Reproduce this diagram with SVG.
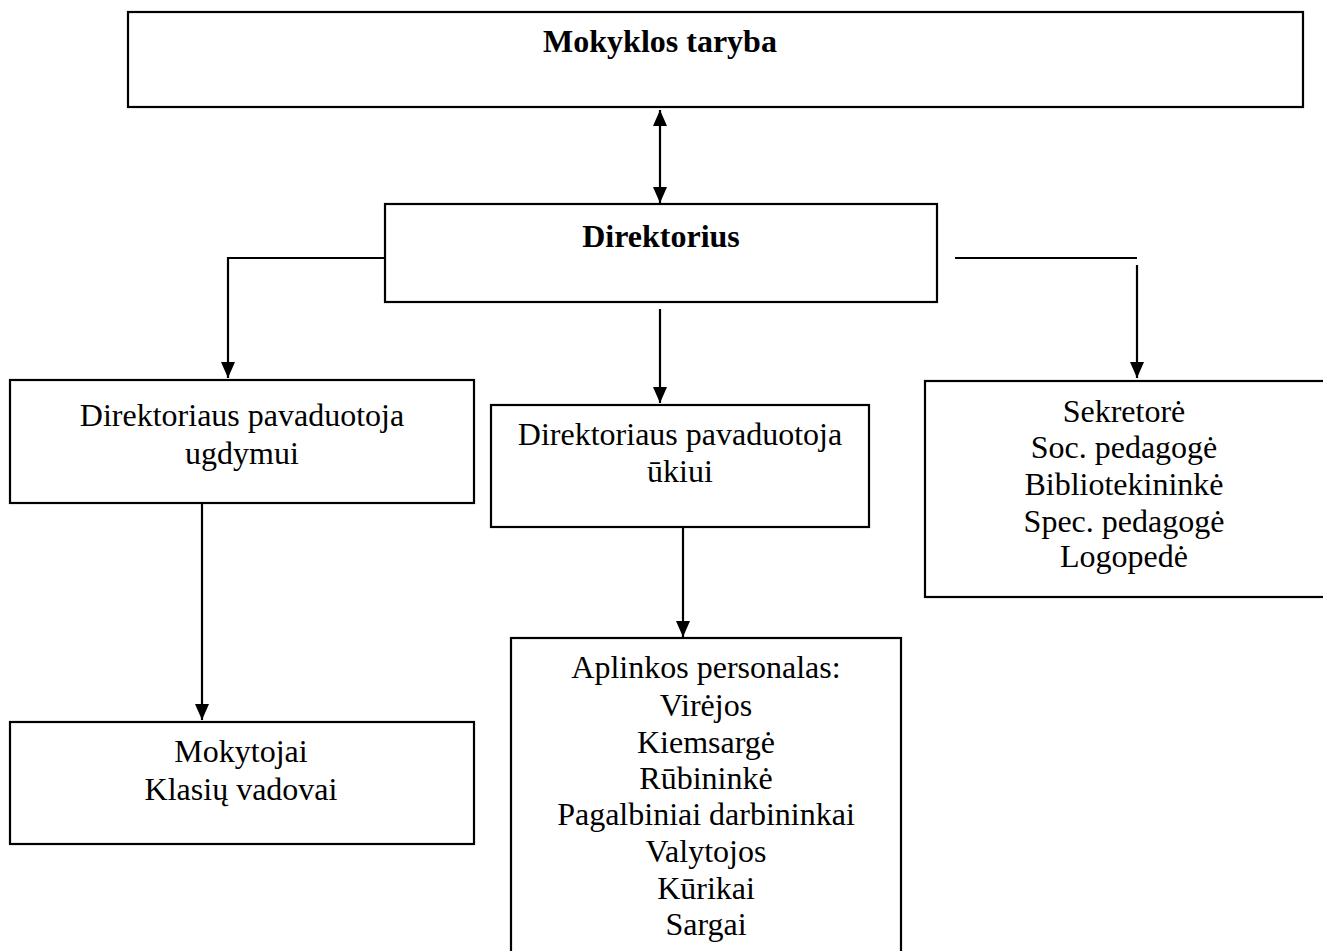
<svg xmlns="http://www.w3.org/2000/svg" width="1323" height="951" viewBox="0 0 1323 951">
<style>
.box{fill:#fff;stroke:#000;stroke-width:2.2}
.t{font-family:"Liberation Serif","Times New Roman",serif;font-size:32px;fill:#000;text-anchor:middle}
.b{font-weight:bold}
.c{fill:none;stroke:#000;stroke-width:2.2}
</style>
<defs>
<marker id="ah" viewBox="0 0 16 14" refX="16" refY="7" markerWidth="16" markerHeight="14" orient="auto-start-reverse" markerUnits="userSpaceOnUse">
<path d="M0,0 L16,7 L0,14 Z" fill="#000"/>
</marker>
</defs>
<rect width="1323" height="951" fill="#fff"/>
<g id="connectors">
<path class="c" d="M660,110 L660,203" marker-start="url(#ah)" marker-end="url(#ah)"/>
<path class="c" d="M404,258 L228,258 L228,378" marker-end="url(#ah)"/>
<path class="c" d="M955,258 L1137,258"/>
<path class="c" d="M1137,265 L1137,378" marker-end="url(#ah)"/>
<path class="c" d="M660,309 L660,403" marker-end="url(#ah)"/>
<path class="c" d="M683,527 L683,637" marker-end="url(#ah)"/>
<path class="c" d="M202,503 L202,720" marker-end="url(#ah)"/>
</g>
<g id="node-taryba">
<rect class="box" x="128" y="12" width="1175" height="95"/>
<text class="t b" x="660" y="52">Mokyklos taryba</text>
</g>
<g id="node-direktorius">
<rect class="box" x="385" y="204" width="552" height="98"/>
<text class="t b" x="661" y="247">Direktorius</text>
</g>
<g id="node-ugdymui">
<rect class="box" x="10" y="380" width="464" height="123"/>
<text class="t" x="242" y="426">Direktoriaus pavaduotoja</text>
<text class="t" x="242" y="464">ugdymui</text>
</g>
<g id="node-ukiui">
<rect class="box" x="491" y="405" width="378" height="122"/>
<text class="t" x="680" y="445">Direktoriaus pavaduotoja</text>
<text class="t" x="680" y="482">ūkiui</text>
</g>
<g id="node-specialistai">
<rect class="box" x="925" y="381" width="400" height="216"/>
<text class="t" x="1124" y="422">Sekretorė</text>
<text class="t" x="1124" y="458">Soc. pedagogė</text>
<text class="t" x="1124" y="495">Bibliotekininkė</text>
<text class="t" x="1124" y="532">Spec. pedagogė</text>
<text class="t" x="1124" y="567">Logopedė</text>
</g>
<g id="node-mokytojai">
<rect class="box" x="10" y="722" width="464" height="122"/>
<text class="t" x="241" y="762">Mokytojai</text>
<text class="t" x="241" y="800">Klasių vadovai</text>
</g>
<g id="node-aplinkos">
<rect class="box" x="511" y="638" width="390" height="330"/>
<text class="t" x="706" y="678">Aplinkos personalas:</text>
<text class="t" x="706" y="716">Virėjos</text>
<text class="t" x="706" y="753">Kiemsargė</text>
<text class="t" x="706" y="789">Rūbininkė</text>
<text class="t" x="706" y="825">Pagalbiniai darbininkai</text>
<text class="t" x="706" y="862">Valytojos</text>
<text class="t" x="706" y="899">Kūrikai</text>
<text class="t" x="706" y="935">Sargai</text>
</g>
</svg>
